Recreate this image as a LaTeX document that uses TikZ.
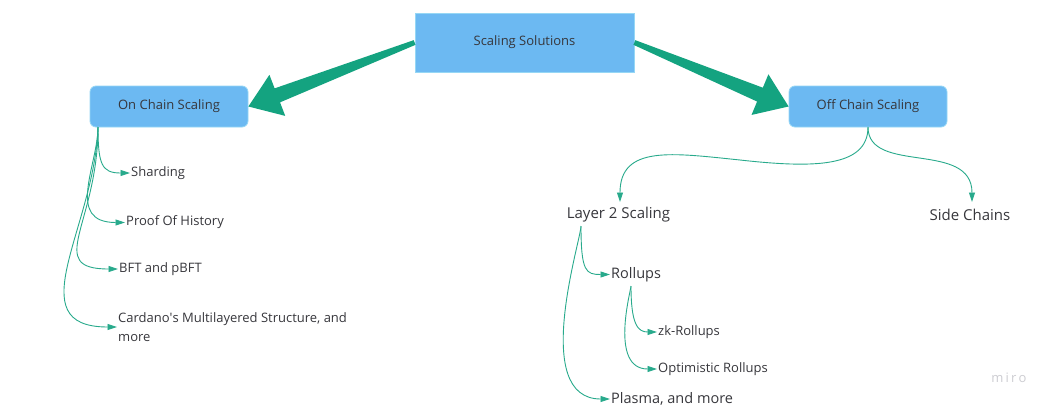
\documentclass[tikz,border=0pt]{standalone}
\usepackage{fontspec}
\setmainfont{Open Sans}
\usetikzlibrary{calc,arrows.meta}
\definecolor{boxblue}{RGB}{108,185,242}
\definecolor{boxedge}{RGB}{150,215,245}
\definecolor{tealc}{RGB}{20,163,128}
\definecolor{linec}{RGB}{40,170,140}
\definecolor{txt}{RGB}{55,55,60}
\definecolor{wm}{RGB}{205,205,210}
\begin{document}
\begin{tikzpicture}[x=1pt,y=-1pt,
  bigbox/.style={rectangle,fill=boxblue,draw=boxedge,line width=0.8pt,minimum width=219pt,minimum height=59pt,font=\fontsize{13}{15}\selectfont,text=txt},
  subbox/.style={rectangle,rounded corners=6pt,fill=boxblue,draw=boxedge,line width=0.8pt,minimum width=158pt,minimum height=41pt,font=\fontsize{13}{15}\selectfont,text=txt},
  leaf/.style={inner xsep=1pt,inner ysep=1pt,text=txt,font=\fontsize{13}{19}\selectfont,align=left},
  bigleaf/.style={inner xsep=1pt,inner ysep=4pt,text=txt,font=\fontsize{15}{18}\selectfont},
  midleaf/.style={inner xsep=1pt,inner ysep=1pt,text=txt,font=\fontsize{14.5}{18}\selectfont},
  conn/.style={draw=linec,line width=0.9pt,-{Triangle[length=9.5pt,width=6pt]}},
  bigarrow/.style={fill=tealc,draw=none}
]
\useasboundingbox (0,0) rectangle (1050,407);
\fill[white] (0,0) rectangle (1050,407);

% main boxes
\node[bigbox] (ss) at (524.5,42.5) {Scaling Solutions};
\node[subbox] (on) at (169,106.5) {On Chain Scaling};
\node[subbox] (off) at (868,106.5) {Off Chain Scaling};

% big tapered arrows
\coordinate (A1) at (ss.west);
\coordinate (T1) at (on.east);
\coordinate (B1) at ($(T1)!31pt!(A1)$);
\fill[bigarrow] ($(A1)!2.5pt!90:(T1)$) -- ($(B1)!7.5pt!90:(T1)$) -- ($(B1)!22pt!90:(T1)$) -- (T1)
  -- ($(B1)!22pt!-90:(T1)$) -- ($(B1)!7.5pt!-90:(T1)$) -- ($(A1)!2.5pt!-90:(T1)$) -- cycle;
\coordinate (A2) at (ss.east);
\coordinate (T2) at (off.west);
\coordinate (B2) at ($(T2)!31pt!(A2)$);
\fill[bigarrow] ($(A2)!2.5pt!90:(T2)$) -- ($(B2)!7.5pt!90:(T2)$) -- ($(B2)!22pt!90:(T2)$) -- (T2)
  -- ($(B2)!22pt!-90:(T2)$) -- ($(B2)!7.5pt!-90:(T2)$) -- ($(A2)!2.5pt!-90:(T2)$) -- cycle;

% on chain children
\node[leaf,anchor=west] (shard) at (130,173) {Sharding};
\node[leaf,anchor=west] (poh) at (125,222.5) {Proof Of History};
\node[leaf,anchor=west] (bft) at (118,269) {BFT and pBFT};
\node[leaf,anchor=west] (card) at (117,327) {Cardano\textquotesingle s Multilayered Structure, and\\more};
\coordinate (onO) at (98,127);
\draw[conn] (onO) .. controls (98,165) and (102,173) .. (shard.west);
\draw[conn] (onO) .. controls (98,165) and (65,222.5) .. (poh.west);
\draw[conn] (onO) .. controls (98,224) and (44,269) .. (bft.west);
\draw[conn] (onO) .. controls (95,227) and (17,327) .. (card.west);

% off chain children
\node[bigleaf] (l2) at (618.5,215) {Layer 2 Scaling};
\node[bigleaf] (sc) at (970,215) {Side Chains};
\coordinate (offO) at (868,127);
\coordinate (offM) at (740,160);
\draw[conn] (offO) .. controls (868,168) and (812,168) .. (offM) .. controls (672,153) and (620,145) .. (620,202);
\draw[conn] (offO) .. controls (868,175) and (972,140) .. (972,202);

% layer 2 children
\node[midleaf,anchor=west] (roll) at (610,274.5) {Rollups};
\node[midleaf,anchor=west] (plasma) at (610,399) {Plasma, and more};
\coordinate (l2O) at (581,226);
\draw[conn] (l2O) .. controls (581,272) and (586,274.5) .. (roll.west);
\draw[conn] (l2O) .. controls (581,240) and (530,399) .. (plasma.west);

% rollups children
\node[leaf,anchor=west] (zk) at (657,332) {zk-Rollups};
\node[leaf,anchor=west] (opt) at (657,369) {Optimistic Rollups};
\coordinate (rO) at (631,286);
\draw[conn] (rO) .. controls (631,325) and (638,332) .. (zk.west);
\draw[conn] (rO) .. controls (631,290) and (609,369) .. (opt.west);

% watermark
\node[text=wm,font=\fontsize{13}{15}\selectfont] (miro) at (1009,378) {m\,i\,r\,o};
\end{tikzpicture}
\end{document}
